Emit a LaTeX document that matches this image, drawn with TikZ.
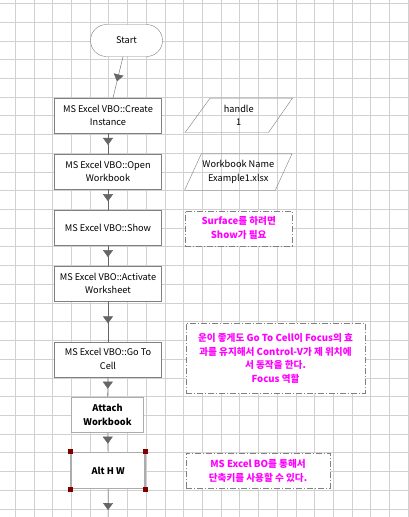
\documentclass[tikz,border=0pt]{standalone}
\usepackage{fontspec}
\setmainfont{Noto Sans CJK KR}
\usetikzlibrary{arrows.meta,decorations.markings}
\definecolor{gridgray}{HTML}{D0D0D0}
\definecolor{linegray}{HTML}{666666}
\definecolor{notepink}{HTML}{FF00FF}
\definecolor{handlered}{HTML}{800000}
\newcommand\boxfont{\fontsize{9.2}{13.7}\selectfont}
\newcommand\notefont{\fontsize{9.6}{13.7}\selectfont\bfseries\color{notepink}}

\begin{document}
\begin{tikzpicture}[x=1pt,y=-1pt,
  stagebox/.style={draw=gray,fill=white,minimum width=107pt,minimum height=35pt,inner sep=1pt,align=center,font=\boxfont},
  boldbox/.style={draw=gray!65,line width=1.5pt,fill=white,minimum width=72pt,minimum height=35pt,inner sep=1pt,align=center,font=\boxfont\bfseries},
  databox/.style={minimum width=107pt,minimum height=34pt,inner sep=1pt,align=center,font=\boxfont},
  notebox/.style={draw=gray,fill=white,dash pattern=on 6pt off 2pt on 1pt off 2pt,inner sep=1pt,align=center,font=\notefont},
  flow/.style={draw=linegray,postaction={decorate},decoration={markings,mark=at position #1 with {\arrow[linegray]{Triangle[length=7pt,width=10pt]}}}},
  flow/.default=0.57]
\useasboundingbox (0,0) rectangle (409,517);
\fill[white] (0,0) rectangle (409,517);
% background grid
\foreach \i in {0,...,21} \draw[gridgray] ({15+18.72*\i},0) -- ({15+18.72*\i},517);
\foreach \j in {0,...,27} \draw[gridgray] (0,{3.3+18.72*\j}) -- (409,{3.3+18.72*\j});

% main flow
\node[draw=gray,fill=white,rounded corners=16pt,minimum width=72pt,minimum height=32pt,font=\boxfont] (start) at (126.5,40.5) {Start};
\node[stagebox] (create) at (108,115.5) {MS Excel VBO::Create\\Instance};
\node[stagebox] (open) at (108,171.5) {MS Excel VBO::Open\\Workbook};
\node[stagebox] (show) at (108,228) {MS Excel VBO::Show};
\node[stagebox] (activate) at (108,283.5) {MS Excel VBO::Activate\\Worksheet};
\node[stagebox] (gotocell) at (108,359.2) {MS Excel VBO::Go To\\Cell};
\node[boldbox] (attach) at (107.5,414.8) {Attach\\Workbook};
\node[boldbox,minimum width=74pt,minimum height=36pt] (alt) at (108.2,470.4) {Alt H W};
\coordinate (flowend) at (108,517);

% data items
\node[databox] (handle) at (238.8,115.3) {handle\\1};
\draw[gray] ([xshift=25pt]handle.north west) -- (handle.north east) -- ([xshift=-24pt]handle.south east) -- (handle.south west) -- cycle;
\node[databox,minimum height=36pt] (wbname) at (238.3,172) {Workbook Name\\Example1.xlsx};
\draw[gray] ([xshift=16.7pt]wbname.north west) -- (wbname.north east) -- ([xshift=-16.7pt]wbname.south east) -- (wbname.south west) -- cycle;

% notes
\node[notebox,minimum width=107pt,minimum height=35pt] (note1) at (238.7,228.2) {Surface를 하려면\\Show가 필요};
\node[notebox,minimum width=179pt,minimum height=70pt] (note2) at (275.5,358.3) {운이 좋게도 Go To Cell이 Focus의 효\\과를 유지해서 Control-V가 제 위치에\\서 동작을 한다.\\Focus 역할};
\node[notebox,minimum width=144pt,minimum height=35pt] (note3) at (258,470.8) {MS Excel BO를 통해서\\단축키를 사용할 수 있다.};

% connectors
\draw[flow=0.6] ([xshift=-3.5pt]start.south) -- ([xshift=5pt]create.north);
\draw[flow] (create) -- (open);
\draw[flow] (open) -- (show);
\draw[flow] (show) -- (activate);
\draw[flow=0.55] (activate) -- (gotocell);
\draw[flow=0.6] (gotocell) -- (attach);
\draw[flow] (attach) -- (alt);
\draw[flow=0.75] (alt) -- (flowend);

% selection handles
\foreach \c in {north west,north east,south west,south east}
  \fill[handlered] ([shift={(-2.5,-2.5)}]alt.\c) rectangle ++(5,5);
\end{tikzpicture}
\end{document}
